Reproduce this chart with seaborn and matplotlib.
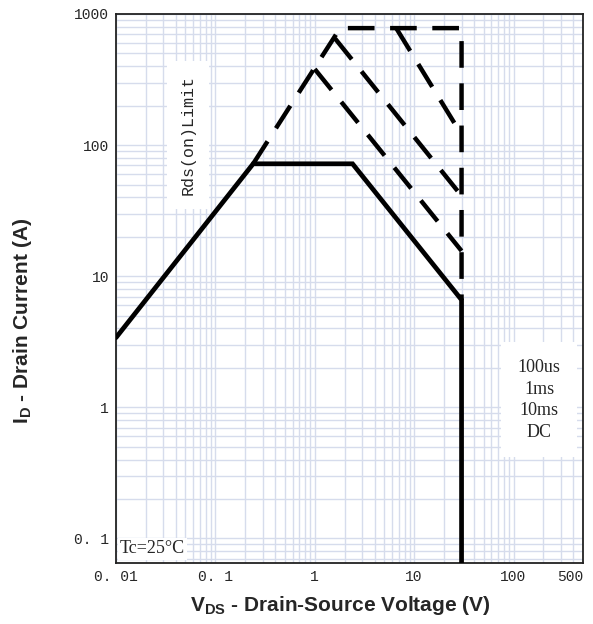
import matplotlib
matplotlib.use("Agg")
import matplotlib.pyplot as plt
import seaborn as sns
import pandas as pd
from matplotlib.ticker import LogLocator, NullFormatter

# safe operating area
rds_v = [0.24, 1.8, 30, 30]
rds_i = [72, 780, 780, 6.6]

us100_v = [6.6, 30]
us100_i = [780, 120]

ms1_v = [1.6, 30]
ms1_i = [650, 41]

ms10_v = [1.0, 30]
ms10_i = [380, 15.6]

dc_v = [0.01, 0.24, 2.4, 30, 30]
dc_i = [3.4, 72, 72, 6.6, 0.01]

xticks = [0.01, 0.1, 1, 10, 100, 500]
xticklabels = ["0. 01", "0. 1", "1", "10", "100", "500"]
yticks = [0.1, 1, 10, 100, 1000]
yticklabels = ["0. 1", "1", "10", "100", "1000"]

sns.set_style("white")
plt.rcParams["mathtext.fontset"] = "custom"
plt.rcParams["mathtext.bf"] = "Liberation Sans:bold"
plt.rcParams["mathtext.rm"] = "Liberation Sans:bold"

fig = plt.figure(figsize=(5.93, 6.24), dpi=100)
ax = fig.add_axes([0.1956, 0.0978, 0.7875, 0.8798])
ax.set_xscale("log")
ax.set_yscale("log")
ax.set_xlim(0.01, 500)
ax.set_ylim(0.065, 1000)

grid_col = "#d6dcec"
ax.yaxis.set_minor_locator(LogLocator(base=10, subs=range(2, 10)))
ax.xaxis.set_minor_locator(LogLocator(base=10, subs=range(2, 10)))
ax.grid(True, which="both", color=grid_col, lw=1.0)
ax.set_axisbelow(True)

dashed = (0, (6, 3.5))
for v, i in [(rds_v, rds_i), (us100_v, us100_i), (ms1_v, ms1_i), (ms10_v, ms10_i)]:
    df = pd.DataFrame({"V": v, "I": i})
    sns.lineplot(data=df, x="V", y="I", sort=False, estimator=None, ax=ax,
                 color="black", lw=3.2, linestyle=dashed, zorder=3)

df_dc = pd.DataFrame({"V": dc_v, "I": dc_i})
sns.lineplot(data=df_dc, x="V", y="I", sort=False, estimator=None, ax=ax,
             color="black", lw=3.4, zorder=4, solid_joinstyle="miter")

ax.set_xticks(xticks)
ax.set_xticklabels(xticklabels, family="Liberation Mono", fontsize=10.5)
ax.get_xticklabels()[-1].set_horizontalalignment("right")
ax.set_yticks(yticks)
ax.set_yticklabels(yticklabels, family="Liberation Mono", fontsize=10.5)
ax.xaxis.set_minor_formatter(NullFormatter())
ax.yaxis.set_minor_formatter(NullFormatter())
ax.tick_params(which="both", length=0, pad=5)

for s in ax.spines.values():
    s.set_color("#222222")
    s.set_linewidth(1.3)

ax.set_xlabel(r"V$_{\mathbf{DS}}$ - Drain-Source Voltage (V)",
              family="Liberation Sans", fontweight="bold", fontsize=15)
ax.set_ylabel(r"I$_{\mathbf{D}}$ - Drain Current (A)",
              family="Liberation Sans", fontweight="bold", fontsize=15)
ax.xaxis.set_label_coords(0.48, -0.056)
ax.yaxis.set_label_coords(-0.175, 0.44)

ax.text(0.154, 0.78, "Rds(on)Limit", transform=ax.transAxes, rotation=90,
        ha="center", va="center", family="Liberation Mono", fontsize=12,
        bbox=dict(facecolor="white", edgecolor="none", pad=10), zorder=2)
ax.text(0.906, 0.297, "100us\n1ms\n10ms\nDC", transform=ax.transAxes,
        ha="center", va="center", family="Liberation Serif", fontsize=13,
        linespacing=1.35, bbox=dict(facecolor="white", edgecolor="none", pad=12),
        zorder=2)
ax.text(0.008, 0.01, "Tc=25°C", transform=ax.transAxes, ha="left", va="bottom",
        family="Liberation Serif", fontsize=13,
        bbox=dict(facecolor="white", edgecolor="none", pad=1.5), zorder=2)

fig.savefig("out.png", dpi=100)
